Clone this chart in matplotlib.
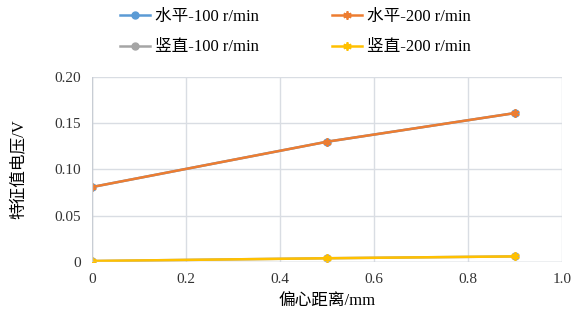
import matplotlib.pyplot as plt

plt.rcParams['font.family'] = ['Liberation Serif', 'Noto Sans CJK SC']
plt.rcParams['axes.unicode_minus'] = False

# 数据
x_mm = [0, 0.5, 0.9]
h100 = [0.081, 0.130, 0.161]
h200 = [0.081, 0.130, 0.161]
v100 = [0.001, 0.004, 0.006]
v200 = [0.001, 0.004, 0.006]
labels = ['水平-100 r/min', '竖直-100 r/min', '水平-200 r/min', '竖直-200 r/min']

fig = plt.figure(figsize=(5.8, 3.25), dpi=100)
ax = fig.add_axes([0.1586, 0.194, 0.810, 0.569])

star = (6, 2, 0)
l1, = ax.plot(x_mm, h100, color='#5B9BD5', marker='o', ms=5, lw=1.8)
l2, = ax.plot(x_mm, h200, color='#ED7D31', marker=star, ms=6, mew=1.3, lw=1.8)
l3, = ax.plot(x_mm, v100, color='#A5A5A5', marker='o', ms=5, lw=1.8)
l4, = ax.plot(x_mm, v200, color='#FFC000', marker=star, ms=6, mew=1.3, lw=1.8)

ax.set_xlim(0, 1.0)
ax.set_ylim(0, 0.20)
ax.set_xticks([0, 0.2, 0.4, 0.6, 0.8, 1.0])
ax.set_xticklabels(['0', '0.2', '0.4', '0.6', '0.8', '1.0'])
ax.set_yticks([0, 0.05, 0.10, 0.15, 0.20])
ax.set_yticklabels(['0', '0.05', '0.10', '0.15', '0.20'])
ax.tick_params(length=0, labelsize=11, colors='#333333', pad=8)
ax.grid(True, color='#D9DDE3', lw=1)
for s in ax.spines.values():
    s.set_visible(False)
ax.axhline(0, color='#C8CDD4', lw=1)
ax.axvline(0, color='#C8CDD4', lw=1)

ax.set_xlabel('偏心距离/mm', fontsize=12, labelpad=5)
ax.set_ylabel('特征值电压/V', fontsize=12, labelpad=20)

fig.legend([l1, l3, l2, l4], labels, ncol=2, loc='upper center',
           bbox_to_anchor=(0.509, 1.02), frameon=False, fontsize=12,
           columnspacing=4.4, handlelength=1.8, handletextpad=0.3,
           labelspacing=0.9)

plt.savefig('out.png', dpi=100)
